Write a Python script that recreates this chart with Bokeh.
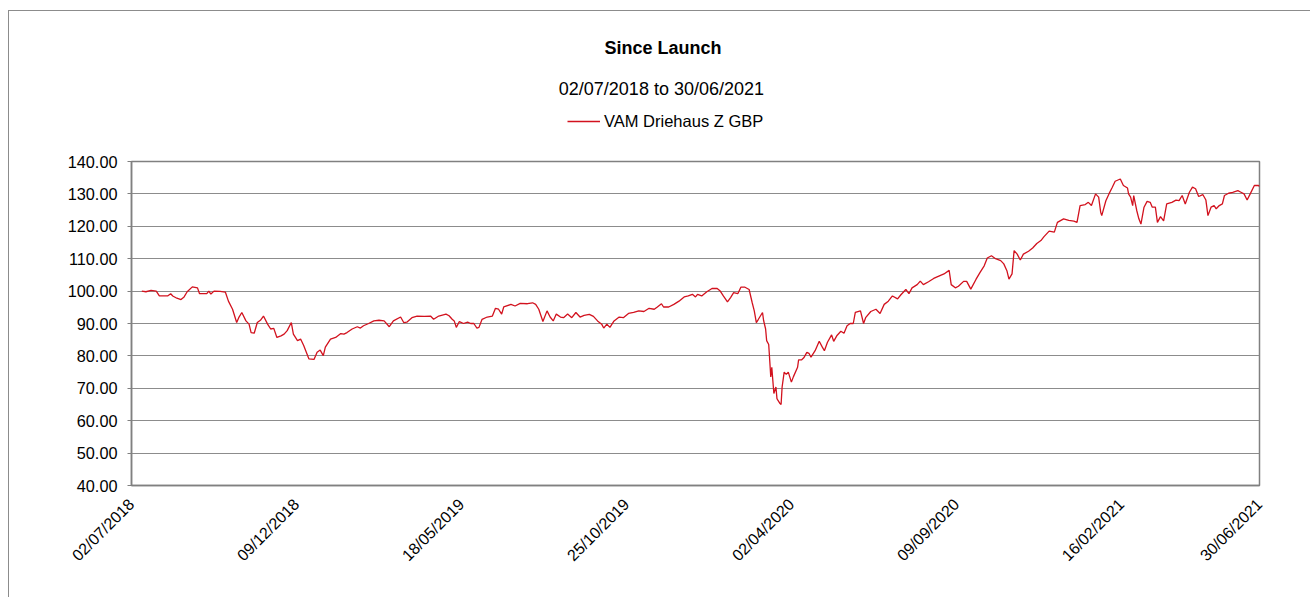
import math
import pandas as pd
from bokeh.plotting import figure
from bokeh.layouts import column
from bokeh.models import (Range1d, FixedTicker, NumeralTickFormatter, DatetimeTickFormatter,
                          Legend, LegendItem, Label, ColumnDataSource)
from bokeh.embed import file_html
from bokeh.resources import INLINE

# ---------------- data ----------------
chart_title = "Since Launch"
chart_subtitle = "02/07/2018 to 30/06/2021"
series_name = "VAM Driehaus Z GBP"

dates = [
    "2018-07-12", "2018-07-16", "2018-07-21", "2018-07-26", "2018-07-29", "2018-08-06", "2018-08-09", "2018-08-11",
    "2018-08-15", "2018-08-19", "2018-08-22", "2018-08-25", "2018-08-30", "2018-09-04", "2018-09-06", "2018-09-13",
    "2018-09-15", "2018-09-17", "2018-09-20", "2018-09-26", "2018-10-01", "2018-10-04", "2018-10-08", "2018-10-12",
    "2018-10-14", "2018-10-17", "2018-10-21", "2018-10-24", "2018-10-26", "2018-10-29", "2018-11-01", "2018-11-04",
    "2018-11-07", "2018-11-11", "2018-11-14", "2018-11-17", "2018-11-20", "2018-11-24", "2018-11-27", "2018-11-30",
    "2018-12-04", "2018-12-06", "2018-12-10", "2018-12-13", "2018-12-16", "2018-12-21", "2018-12-26", "2018-12-29",
    "2019-01-01", "2019-01-04", "2019-01-06", "2019-01-11", "2019-01-16", "2019-01-21", "2019-01-24", "2019-01-27",
    "2019-02-01", "2019-02-06", "2019-02-09", "2019-02-12", "2019-02-17", "2019-02-22", "2019-02-27", "2019-03-04",
    "2019-03-09", "2019-03-13", "2019-03-20", "2019-03-23", "2019-03-26", "2019-03-31", "2019-04-05", "2019-04-12",
    "2019-04-18", "2019-04-21", "2019-04-26", "2019-05-03", "2019-05-06", "2019-05-09", "2019-05-11", "2019-05-13",
    "2019-05-16", "2019-05-20", "2019-05-24", "2019-05-27", "2019-05-30", "2019-06-02", "2019-06-04", "2019-06-07",
    "2019-06-12", "2019-06-17", "2019-06-20", "2019-06-23", "2019-06-26", "2019-06-28", "2019-07-05", "2019-07-09",
    "2019-07-14", "2019-07-21", "2019-07-26", "2019-07-29", "2019-08-01", "2019-08-05", "2019-08-09", "2019-08-12",
    "2019-08-15", "2019-08-18", "2019-08-22", "2019-08-25", "2019-08-29", "2019-09-02", "2019-09-06", "2019-09-10",
    "2019-09-14", "2019-09-19", "2019-09-23", "2019-09-27", "2019-10-01", "2019-10-03", "2019-10-06", "2019-10-09",
    "2019-10-13", "2019-10-18", "2019-10-22", "2019-10-27", "2019-11-01", "2019-11-06", "2019-11-11", "2019-11-16",
    "2019-11-21", "2019-11-24", "2019-11-28", "2019-11-30", "2019-12-05", "2019-12-10", "2019-12-15", "2019-12-20",
    "2019-12-24", "2019-12-28", "2019-12-31", "2020-01-02", "2020-01-06", "2020-01-11", "2020-01-16", "2020-01-21",
    "2020-01-24", "2020-01-27", "2020-01-31", "2020-02-03", "2020-02-06", "2020-02-10", "2020-02-13", "2020-02-17",
    "2020-02-21", "2020-02-24", "2020-02-26", "2020-02-28", "2020-03-01", "2020-03-05", "2020-03-06", "2020-03-08",
    "2020-03-09", "2020-03-11", "2020-03-12", "2020-03-13", "2020-03-14", "2020-03-15", "2020-03-16", "2020-03-18",
    "2020-03-19", "2020-03-20", "2020-03-22", "2020-03-23", "2020-03-24", "2020-03-26", "2020-03-28", "2020-03-30",
    "2020-04-02", "2020-04-04", "2020-04-08", "2020-04-09", "2020-04-12", "2020-04-14", "2020-04-17", "2020-04-19",
    "2020-04-21", "2020-04-25", "2020-04-29", "2020-05-02", "2020-05-04", "2020-05-07", "2020-05-11", "2020-05-13",
    "2020-05-16", "2020-05-20", "2020-05-23", "2020-05-26", "2020-05-29", "2020-06-01", "2020-06-03", "2020-06-08",
    "2020-06-11", "2020-06-13", "2020-06-18", "2020-06-23", "2020-06-27", "2020-07-01", "2020-07-05", "2020-07-09",
    "2020-07-14", "2020-07-17", "2020-07-22", "2020-07-25", "2020-07-28", "2020-08-02", "2020-08-05", "2020-08-08",
    "2020-08-13", "2020-08-18", "2020-08-23", "2020-08-28", "2020-09-02", "2020-09-04", "2020-09-08", "2020-09-11",
    "2020-09-16", "2020-09-19", "2020-09-23", "2020-09-28", "2020-10-02", "2020-10-06", "2020-10-09", "2020-10-13",
    "2020-10-17", "2020-10-22", "2020-10-25", "2020-10-28", "2020-10-30", "2020-11-02", "2020-11-04", "2020-11-07",
    "2020-11-10", "2020-11-13", "2020-11-18", "2020-11-22", "2020-11-26", "2020-11-30", "2020-12-03", "2020-12-08",
    "2020-12-13", "2020-12-16", "2020-12-22", "2020-12-27", "2021-01-01", "2021-01-04", "2021-01-07", "2021-01-12",
    "2021-01-15", "2021-01-18", "2021-01-22", "2021-01-25", "2021-01-27", "2021-01-28", "2021-02-01", "2021-02-04",
    "2021-02-07", "2021-02-10", "2021-02-15", "2021-02-18", "2021-02-22", "2021-02-23", "2021-02-25", "2021-02-27",
    "2021-02-28", "2021-03-03", "2021-03-05", "2021-03-07", "2021-03-10", "2021-03-13", "2021-03-16", "2021-03-18",
    "2021-03-21", "2021-03-23", "2021-03-26", "2021-03-29", "2021-04-01", "2021-04-06", "2021-04-10", "2021-04-13",
    "2021-04-16", "2021-04-19", "2021-04-23", "2021-04-26", "2021-04-29", "2021-05-02", "2021-05-06", "2021-05-09",
    "2021-05-11", "2021-05-14", "2021-05-17", "2021-05-19", "2021-05-22", "2021-05-25", "2021-05-27", "2021-05-31",
    "2021-06-04", "2021-06-09", "2021-06-12", "2021-06-15", "2021-06-18", "2021-06-21", "2021-06-25", "2021-06-29",
    "2021-06-30",
]

values = [
    100.0, 99.8, 100.2, 100.0, 98.5, 98.5, 99.2, 98.5,
    97.8, 97.4, 98.2, 99.8, 101.3, 101.0, 99.2, 99.2,
    100.0, 99.1, 100.0, 99.9, 99.7, 96.9, 94.4, 90.3,
    91.8, 93.4, 90.8, 89.8, 87.2, 87.0, 90.3, 91.0,
    92.3, 89.8, 88.3, 88.5, 85.7, 86.2, 86.7, 87.8,
    90.3, 86.7, 84.7, 85.2, 83.2, 79.1, 78.9, 81.1,
    81.8, 80.1, 82.7, 85.2, 85.7, 86.9, 86.7, 87.2,
    88.3, 89.0, 88.6, 89.3, 90.0, 90.8, 91.0, 90.8,
    89.0, 90.8, 92.0, 90.3, 90.4, 91.8, 92.3, 92.2,
    92.3, 91.3, 92.3, 92.9, 92.4, 91.3, 90.8, 88.8,
    90.6, 90.0, 90.4, 90.0, 90.0, 88.6, 88.8, 91.3,
    92.0, 92.3, 94.7, 94.4, 92.9, 95.1, 95.9, 95.4,
    96.2, 96.1, 96.4, 95.9, 94.4, 90.6, 93.9, 92.0,
    90.8, 92.9, 92.0, 91.8, 92.9, 91.8, 93.4, 92.0,
    92.5, 92.8, 92.2, 90.8, 89.8, 88.6, 89.8, 88.8,
    90.8, 92.0, 91.8, 93.1, 93.4, 93.9, 93.7, 94.7,
    94.4, 95.1, 96.1, 95.1, 95.1, 95.9, 96.9, 98.2,
    98.5, 99.0, 98.2, 99.0, 98.5, 99.8, 100.8, 100.8,
    100.0, 98.5, 96.7, 98.0, 99.5, 99.2, 101.2, 101.2,
    100.5, 96.4, 93.9, 90.3, 91.3, 93.4, 91.0, 88.3,
    84.7, 83.5, 78.6, 73.5, 76.5, 72.4, 68.4, 70.4,
    66.8, 66.3, 65.3, 65.0, 70.4, 75.0, 74.3, 75.0,
    71.9, 73.6, 76.5, 78.8, 78.8, 79.4, 81.1, 80.8,
    79.6, 81.6, 84.5, 82.7, 81.6, 84.2, 86.5, 84.5,
    86.2, 87.6, 87.0, 89.3, 90.0, 90.0, 93.4, 93.9,
    90.0, 91.8, 93.7, 94.4, 93.1, 95.9, 96.9, 98.5,
    97.6, 98.8, 100.5, 99.2, 101.0, 102.0, 103.1, 102.0,
    102.9, 103.9, 104.6, 105.3, 106.4, 102.0, 101.0, 101.5,
    103.0, 103.0, 100.6, 103.6, 105.8, 107.8, 110.2, 110.9,
    110.0, 109.4, 108.4, 106.3, 103.7, 105.3, 112.5, 111.4,
    109.6, 111.4, 112.3, 113.3, 114.7, 115.6, 116.8, 118.5,
    118.2, 121.2, 122.3, 121.8, 121.6, 121.2, 126.4, 126.7,
    127.4, 126.4, 130.0, 129.0, 124.3, 123.3, 127.9, 130.0,
    131.9, 133.9, 134.6, 132.6, 131.8, 130.0, 129.0, 126.4,
    129.5, 124.8, 122.3, 120.7, 125.9, 127.7, 127.4, 125.9,
    125.9, 121.2, 123.0, 121.7, 126.9, 127.4, 128.1, 127.9,
    129.5, 126.9, 130.5, 132.1, 131.6, 129.2, 129.8, 128.1,
    123.3, 125.9, 126.4, 125.4, 126.4, 126.9, 129.5, 130.2,
    130.5, 131.0, 130.5, 130.0, 128.1, 130.0, 132.6, 132.6,
    132.3,
]

x_tick_dates = ["2018-07-02", "2018-12-09", "2019-05-18", "2019-10-25",
                "2020-04-02", "2020-09-09", "2021-02-16", "2021-06-30"]
y_ticks = [40, 50, 60, 70, 80, 90, 100, 110, 120, 130, 140]

# ---------------- styling ----------------
FONT = "Liberation Sans"
RED = "#d2121e"
GRID = "#8c8c8c"
AXIS = "#808080"
CANVAS_W = 1301
HEADER_H = 140


def ms(s):
    return pd.Timestamp(s).value / 1e6


x_start = ms(x_tick_dates[0])
x_end = ms(x_tick_dates[-1])

src = ColumnDataSource(data=dict(date=pd.to_datetime(dates), value=values))

# ---------------- header (title, subtitle, legend) ----------------
# header frame is aligned with the chart frame by the column layout;
# its ranges are expressed in page pixels so that text positions are direct.
header = figure(
    width=CANVAS_W, height=HEADER_H,
    output_backend="svg", toolbar_location=None,
    x_range=Range1d(131, 1259), y_range=Range1d(151, 11),
    x_axis_location=None, y_axis_location=None,
    min_border=0, min_border_left=0, min_border_right=0, min_border_top=0, min_border_bottom=0,
    outline_line_color=None, background_fill_color="white", border_fill_color="white",
)
header.title_location = None
header.xgrid.grid_line_color = None
header.ygrid.grid_line_color = None

header.add_layout(Label(x=604, y=47, text=chart_title, text_align="left",
                        text_baseline="alphabetic", text_font=FONT, text_font_size="18px",
                        text_font_style="bold", text_color="#000000"))
header.add_layout(Label(x=558.3, y=88.7, text=chart_subtitle, text_align="left",
                        text_baseline="alphabetic", text_font=FONT, text_font_size="18px",
                        text_color="#000000"))

# legend key: same series renderer (outside the header's visible ranges)
legend_glyph = header.line(x="date", y="value", source=src, line_color=RED, line_width=1.3)
legend = Legend(
    items=[LegendItem(label=series_name, renderers=[legend_glyph])],
    location=(436, 20),
    padding=0, margin=0, spacing=0,
    border_line_color=None, background_fill_alpha=0,
    glyph_width=33, glyph_height=20, label_height=20, label_standoff=4,
    label_text_font=FONT, label_text_font_size="16.5px", label_text_color="#000000",
)
header.add_layout(legend)

# ---------------- main chart ----------------
p = figure(
    x_axis_type="datetime",
    output_backend="svg",
    toolbar_location=None,
    x_range=Range1d(x_start, x_end),
    y_range=Range1d(y_ticks[0], y_ticks[-1]),
    frame_width=1128,
    frame_height=324,
    min_border_left=122,
    min_border_right=51,
    min_border_top=10,
    min_border_bottom=112,
    background_fill_color="white",
    border_fill_color="white",
)
p.title_location = None

p.outline_line_color = AXIS
p.outline_line_width = 1.5

p.line(x="date", y="value", source=src, line_color=RED, line_width=1.3)

# y axis
p.yaxis.ticker = FixedTicker(ticks=y_ticks)
p.yaxis.formatter = NumeralTickFormatter(format="0.00")
p.yaxis.major_label_text_font = FONT
p.yaxis.major_label_text_font_size = "16.3px"
p.yaxis.major_label_text_color = "#000000"
p.yaxis.axis_line_color = AXIS
p.yaxis.axis_line_width = 1.5
p.yaxis.major_tick_line_color = AXIS
p.yaxis.major_tick_out = 4
p.yaxis.major_tick_in = 0
p.yaxis.minor_tick_line_color = None
p.yaxis.major_label_standoff = 10

# x axis
p.xaxis.ticker = FixedTicker(ticks=[ms(d) for d in x_tick_dates])
fmt = "%d/%m/%Y"
p.xaxis.formatter = DatetimeTickFormatter(
    milliseconds=fmt, seconds=fmt, minsec=fmt, minutes=fmt, hourmin=fmt,
    hours=fmt, days=fmt, months=fmt, years=fmt)
p.xaxis.major_label_orientation = math.pi / 4
p.xaxis.major_label_text_font = FONT
p.xaxis.major_label_text_font_size = "16px"
p.xaxis.major_label_text_color = "#000000"
p.xaxis.axis_line_color = AXIS
p.xaxis.axis_line_width = 1.5
p.xaxis.major_tick_line_color = None
p.xaxis.major_tick_out = 0
p.xaxis.major_tick_in = 0
p.xaxis.minor_tick_line_color = None
p.xaxis.major_label_standoff = 16

# grid
p.xgrid.grid_line_color = None
p.ygrid.grid_line_color = GRID
p.ygrid.grid_line_width = 1

layout = column(header, p, spacing=0)
layout.styles = {"margin-left": "8px", "margin-top": "10px",
                 "border-left": "1px solid #8c8c8c", "border-top": "1px solid #8c8c8c"}

open("out.html", "w").write(file_html(layout, INLINE))
